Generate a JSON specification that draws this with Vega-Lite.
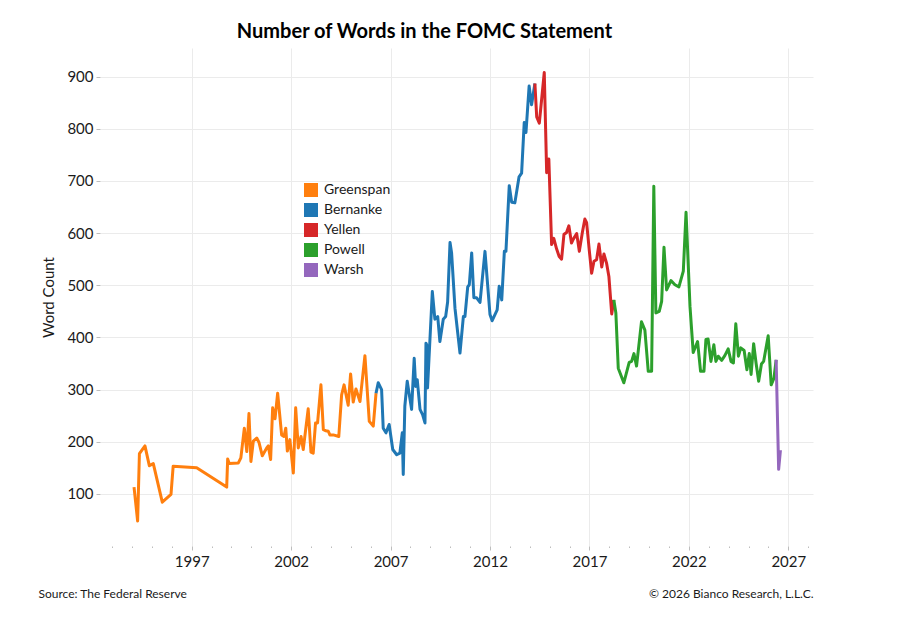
{
  "$schema": "https://vega.github.io/schema/vega-lite/v6.json",
  "width": 713,
  "height": 498,
  "autosize": {"type": "none"},
  "padding": {"left": 100, "top": 48, "right": 93, "bottom": 72},
  "background": "white",
  "title": {
    "text": "Number of Words in the FOMC Statement",
    "font": "Lato",
    "fontSize": 20,
    "fontWeight": "bold",
    "color": "#000000",
    "anchor": "middle",
    "dx": -32,
    "offset": 6
  },
  "data": {
    "values": [
      {"date": "1994-02-06", "words": 113, "chair": "Greenspan"},
      {"date": "1994-04-13", "words": 48, "chair": "Greenspan"},
      {"date": "1994-05-16", "words": 177, "chair": "Greenspan"},
      {"date": "1994-08-26", "words": 192, "chair": "Greenspan"},
      {"date": "1994-11-14", "words": 154, "chair": "Greenspan"},
      {"date": "1995-01-26", "words": 158, "chair": "Greenspan"},
      {"date": "1995-07-10", "words": 84, "chair": "Greenspan"},
      {"date": "1995-12-17", "words": 99, "chair": "Greenspan"},
      {"date": "1996-01-26", "words": 153, "chair": "Greenspan"},
      {"date": "1997-04-02", "words": 150, "chair": "Greenspan"},
      {"date": "1998-10-05", "words": 113, "chair": "Greenspan"},
      {"date": "1998-10-23", "words": 167, "chair": "Greenspan"},
      {"date": "1998-11-21", "words": 158, "chair": "Greenspan"},
      {"date": "1999-05-05", "words": 159, "chair": "Greenspan"},
      {"date": "1999-06-22", "words": 169, "chair": "Greenspan"},
      {"date": "1999-08-25", "words": 226, "chair": "Greenspan"},
      {"date": "1999-10-09", "words": 181, "chair": "Greenspan"},
      {"date": "1999-11-18", "words": 254, "chair": "Greenspan"},
      {"date": "1999-12-24", "words": 162, "chair": "Greenspan"},
      {"date": "2000-02-06", "words": 201, "chair": "Greenspan"},
      {"date": "2000-04-09", "words": 207, "chair": "Greenspan"},
      {"date": "2000-05-19", "words": 199, "chair": "Greenspan"},
      {"date": "2000-07-20", "words": 173, "chair": "Greenspan"},
      {"date": "2000-10-09", "words": 188, "chair": "Greenspan"},
      {"date": "2000-11-07", "words": 192, "chair": "Greenspan"},
      {"date": "2000-12-20", "words": 166, "chair": "Greenspan"},
      {"date": "2001-01-26", "words": 265, "chair": "Greenspan"},
      {"date": "2001-03-11", "words": 244, "chair": "Greenspan"},
      {"date": "2001-04-28", "words": 293, "chair": "Greenspan"},
      {"date": "2001-07-10", "words": 213, "chair": "Greenspan"},
      {"date": "2001-08-22", "words": 210, "chair": "Greenspan"},
      {"date": "2001-09-24", "words": 226, "chair": "Greenspan"},
      {"date": "2001-10-23", "words": 182, "chair": "Greenspan"},
      {"date": "2001-12-09", "words": 204, "chair": "Greenspan"},
      {"date": "2002-02-10", "words": 140, "chair": "Greenspan"},
      {"date": "2002-03-25", "words": 265, "chair": "Greenspan"},
      {"date": "2002-05-12", "words": 188, "chair": "Greenspan"},
      {"date": "2002-07-02", "words": 210, "chair": "Greenspan"},
      {"date": "2002-08-11", "words": 185, "chair": "Greenspan"},
      {"date": "2002-11-10", "words": 263, "chair": "Greenspan"},
      {"date": "2002-12-31", "words": 180, "chair": "Greenspan"},
      {"date": "2003-02-10", "words": 178, "chair": "Greenspan"},
      {"date": "2003-03-25", "words": 236, "chair": "Greenspan"},
      {"date": "2003-05-01", "words": 236, "chair": "Greenspan"},
      {"date": "2003-07-02", "words": 309, "chair": "Greenspan"},
      {"date": "2003-08-15", "words": 223, "chair": "Greenspan"},
      {"date": "2003-10-01", "words": 221, "chair": "Greenspan"},
      {"date": "2003-11-14", "words": 220, "chair": "Greenspan"},
      {"date": "2003-12-13", "words": 213, "chair": "Greenspan"},
      {"date": "2004-02-14", "words": 213, "chair": "Greenspan"},
      {"date": "2004-05-25", "words": 210, "chair": "Greenspan"},
      {"date": "2004-07-16", "words": 290, "chair": "Greenspan"},
      {"date": "2004-08-30", "words": 309, "chair": "Greenspan"},
      {"date": "2004-11-14", "words": 270, "chair": "Greenspan"},
      {"date": "2004-12-28", "words": 330, "chair": "Greenspan"},
      {"date": "2005-02-14", "words": 276, "chair": "Greenspan"},
      {"date": "2005-04-05", "words": 301, "chair": "Greenspan"},
      {"date": "2005-06-18", "words": 277, "chair": "Greenspan"},
      {"date": "2005-09-17", "words": 365, "chair": "Greenspan"},
      {"date": "2005-12-06", "words": 239, "chair": "Greenspan"},
      {"date": "2006-02-17", "words": 230, "chair": "Greenspan"},
      {"date": "2006-04-09", "words": 293, "chair": "Greenspan"},
      {"date": "2006-04-09", "words": 293, "chair": "Bernanke"},
      {"date": "2006-05-19", "words": 313, "chair": "Bernanke"},
      {"date": "2006-07-20", "words": 300, "chair": "Bernanke"},
      {"date": "2006-08-19", "words": 226, "chair": "Bernanke"},
      {"date": "2006-10-09", "words": 217, "chair": "Bernanke"},
      {"date": "2006-12-06", "words": 233, "chair": "Bernanke"},
      {"date": "2007-02-10", "words": 185, "chair": "Bernanke"},
      {"date": "2007-04-24", "words": 175, "chair": "Bernanke"},
      {"date": "2007-06-21", "words": 178, "chair": "Bernanke"},
      {"date": "2007-08-04", "words": 217, "chair": "Bernanke"},
      {"date": "2007-08-22", "words": 137, "chair": "Bernanke"},
      {"date": "2007-09-20", "words": 268, "chair": "Bernanke"},
      {"date": "2007-11-03", "words": 316, "chair": "Bernanke"},
      {"date": "2008-01-22", "words": 262, "chair": "Bernanke"},
      {"date": "2008-03-10", "words": 360, "chair": "Bernanke"},
      {"date": "2008-04-06", "words": 306, "chair": "Bernanke"},
      {"date": "2008-05-05", "words": 319, "chair": "Bernanke"},
      {"date": "2008-06-25", "words": 262, "chair": "Bernanke"},
      {"date": "2008-08-11", "words": 252, "chair": "Bernanke"},
      {"date": "2008-09-24", "words": 236, "chair": "Bernanke"},
      {"date": "2008-10-12", "words": 389, "chair": "Bernanke"},
      {"date": "2008-10-25", "words": 386, "chair": "Bernanke"},
      {"date": "2008-11-10", "words": 303, "chair": "Bernanke"},
      {"date": "2009-02-06", "words": 488, "chair": "Bernanke"},
      {"date": "2009-03-25", "words": 435, "chair": "Bernanke"},
      {"date": "2009-05-16", "words": 440, "chair": "Bernanke"},
      {"date": "2009-06-25", "words": 392, "chair": "Bernanke"},
      {"date": "2009-08-26", "words": 435, "chair": "Bernanke"},
      {"date": "2009-10-09", "words": 440, "chair": "Bernanke"},
      {"date": "2009-11-14", "words": 468, "chair": "Bernanke"},
      {"date": "2009-12-28", "words": 582, "chair": "Bernanke"},
      {"date": "2010-01-26", "words": 562, "chair": "Bernanke"},
      {"date": "2010-03-29", "words": 456, "chair": "Bernanke"},
      {"date": "2010-06-29", "words": 370, "chair": "Bernanke"},
      {"date": "2010-08-30", "words": 440, "chair": "Bernanke"},
      {"date": "2010-09-28", "words": 440, "chair": "Bernanke"},
      {"date": "2010-11-18", "words": 497, "chair": "Bernanke"},
      {"date": "2010-12-17", "words": 501, "chair": "Bernanke"},
      {"date": "2011-01-30", "words": 562, "chair": "Bernanke"},
      {"date": "2011-03-11", "words": 476, "chair": "Bernanke"},
      {"date": "2011-05-01", "words": 476, "chair": "Bernanke"},
      {"date": "2011-07-02", "words": 467, "chair": "Bernanke"},
      {"date": "2011-10-01", "words": 565, "chair": "Bernanke"},
      {"date": "2012-01-01", "words": 444, "chair": "Bernanke"},
      {"date": "2012-02-10", "words": 432, "chair": "Bernanke"},
      {"date": "2012-05-12", "words": 453, "chair": "Bernanke"},
      {"date": "2012-06-18", "words": 498, "chair": "Bernanke"},
      {"date": "2012-08-04", "words": 472, "chair": "Bernanke"},
      {"date": "2012-09-21", "words": 565, "chair": "Bernanke"},
      {"date": "2012-10-20", "words": 565, "chair": "Bernanke"},
      {"date": "2012-12-20", "words": 691, "chair": "Bernanke"},
      {"date": "2013-02-03", "words": 659, "chair": "Bernanke"},
      {"date": "2013-04-02", "words": 658, "chair": "Bernanke"},
      {"date": "2013-06-18", "words": 708, "chair": "Bernanke"},
      {"date": "2013-08-04", "words": 715, "chair": "Bernanke"},
      {"date": "2013-09-21", "words": 812, "chair": "Bernanke"},
      {"date": "2013-10-23", "words": 793, "chair": "Bernanke"},
      {"date": "2013-12-20", "words": 882, "chair": "Bernanke"},
      {"date": "2014-02-03", "words": 846, "chair": "Bernanke"},
      {"date": "2014-04-05", "words": 887, "chair": "Bernanke"},
      {"date": "2014-04-05", "words": 887, "chair": "Yellen"},
      {"date": "2014-05-08", "words": 823, "chair": "Yellen"},
      {"date": "2014-06-25", "words": 811, "chair": "Yellen"},
      {"date": "2014-09-24", "words": 908, "chair": "Yellen"},
      {"date": "2014-11-07", "words": 716, "chair": "Yellen"},
      {"date": "2014-12-17", "words": 742, "chair": "Yellen"},
      {"date": "2015-02-06", "words": 578, "chair": "Yellen"},
      {"date": "2015-03-18", "words": 590, "chair": "Yellen"},
      {"date": "2015-05-08", "words": 570, "chair": "Yellen"},
      {"date": "2015-06-25", "words": 555, "chair": "Yellen"},
      {"date": "2015-08-08", "words": 550, "chair": "Yellen"},
      {"date": "2015-09-21", "words": 598, "chair": "Yellen"},
      {"date": "2015-11-07", "words": 601, "chair": "Yellen"},
      {"date": "2015-12-20", "words": 614, "chair": "Yellen"},
      {"date": "2016-02-06", "words": 581, "chair": "Yellen"},
      {"date": "2016-03-08", "words": 588, "chair": "Yellen"},
      {"date": "2016-05-12", "words": 599, "chair": "Yellen"},
      {"date": "2016-06-29", "words": 565, "chair": "Yellen"},
      {"date": "2016-08-25", "words": 602, "chair": "Yellen"},
      {"date": "2016-10-09", "words": 627, "chair": "Yellen"},
      {"date": "2016-11-10", "words": 620, "chair": "Yellen"},
      {"date": "2016-12-28", "words": 568, "chair": "Yellen"},
      {"date": "2017-02-10", "words": 523, "chair": "Yellen"},
      {"date": "2017-03-25", "words": 546, "chair": "Yellen"},
      {"date": "2017-05-12", "words": 549, "chair": "Yellen"},
      {"date": "2017-06-25", "words": 579, "chair": "Yellen"},
      {"date": "2017-08-15", "words": 535, "chair": "Yellen"},
      {"date": "2017-09-24", "words": 560, "chair": "Yellen"},
      {"date": "2017-11-10", "words": 543, "chair": "Yellen"},
      {"date": "2017-12-24", "words": 517, "chair": "Yellen"},
      {"date": "2018-02-14", "words": 445, "chair": "Yellen"},
      {"date": "2018-03-25", "words": 472, "chair": "Yellen"},
      {"date": "2018-03-25", "words": 472, "chair": "Powell"},
      {"date": "2018-05-01", "words": 447, "chair": "Powell"},
      {"date": "2018-06-14", "words": 341, "chair": "Powell"},
      {"date": "2018-09-24", "words": 313, "chair": "Powell"},
      {"date": "2019-01-01", "words": 352, "chair": "Powell"},
      {"date": "2019-02-14", "words": 354, "chair": "Powell"},
      {"date": "2019-03-29", "words": 369, "chair": "Powell"},
      {"date": "2019-05-16", "words": 345, "chair": "Powell"},
      {"date": "2019-08-15", "words": 430, "chair": "Powell"},
      {"date": "2019-10-16", "words": 414, "chair": "Powell"},
      {"date": "2019-12-17", "words": 335, "chair": "Powell"},
      {"date": "2020-02-17", "words": 335, "chair": "Powell"},
      {"date": "2020-03-28", "words": 690, "chair": "Powell"},
      {"date": "2020-05-05", "words": 447, "chair": "Powell"},
      {"date": "2020-07-06", "words": 450, "chair": "Powell"},
      {"date": "2020-08-19", "words": 469, "chair": "Powell"},
      {"date": "2020-10-01", "words": 573, "chair": "Powell"},
      {"date": "2020-11-18", "words": 491, "chair": "Powell"},
      {"date": "2021-02-06", "words": 509, "chair": "Powell"},
      {"date": "2021-04-20", "words": 501, "chair": "Powell"},
      {"date": "2021-07-02", "words": 497, "chair": "Powell"},
      {"date": "2021-09-21", "words": 527, "chair": "Powell"},
      {"date": "2021-11-10", "words": 640, "chair": "Powell"},
      {"date": "2022-01-22", "words": 459, "chair": "Powell"},
      {"date": "2022-03-22", "words": 371, "chair": "Powell"},
      {"date": "2022-06-10", "words": 392, "chair": "Powell"},
      {"date": "2022-08-04", "words": 335, "chair": "Powell"},
      {"date": "2022-10-05", "words": 335, "chair": "Powell"},
      {"date": "2022-11-10", "words": 396, "chair": "Powell"},
      {"date": "2022-12-20", "words": 397, "chair": "Powell"},
      {"date": "2023-02-10", "words": 354, "chair": "Powell"},
      {"date": "2023-04-05", "words": 386, "chair": "Powell"},
      {"date": "2023-05-12", "words": 354, "chair": "Powell"},
      {"date": "2023-06-25", "words": 364, "chair": "Powell"},
      {"date": "2023-08-26", "words": 356, "chair": "Powell"},
      {"date": "2023-10-23", "words": 365, "chair": "Powell"},
      {"date": "2023-12-24", "words": 378, "chair": "Powell"},
      {"date": "2024-02-14", "words": 354, "chair": "Powell"},
      {"date": "2024-03-29", "words": 351, "chair": "Powell"},
      {"date": "2024-05-12", "words": 426, "chair": "Powell"},
      {"date": "2024-06-29", "words": 364, "chair": "Powell"},
      {"date": "2024-08-11", "words": 380, "chair": "Powell"},
      {"date": "2024-10-12", "words": 375, "chair": "Powell"},
      {"date": "2024-12-02", "words": 338, "chair": "Powell"},
      {"date": "2025-01-15", "words": 369, "chair": "Powell"},
      {"date": "2025-02-17", "words": 329, "chair": "Powell"},
      {"date": "2025-04-05", "words": 388, "chair": "Powell"},
      {"date": "2025-05-19", "words": 351, "chair": "Powell"},
      {"date": "2025-07-06", "words": 316, "chair": "Powell"},
      {"date": "2025-08-26", "words": 349, "chair": "Powell"},
      {"date": "2025-10-05", "words": 354, "chair": "Powell"},
      {"date": "2025-12-28", "words": 403, "chair": "Powell"},
      {"date": "2026-02-21", "words": 309, "chair": "Powell"},
      {"date": "2026-04-13", "words": 322, "chair": "Powell"},
      {"date": "2026-05-23", "words": 357, "chair": "Powell"},
      {"date": "2026-05-23", "words": 357, "chair": "Warsh"},
      {"date": "2026-07-08", "words": 147, "chair": "Warsh"},
      {"date": "2026-08-10", "words": 184, "chair": "Warsh"}
    ]
  },
  "layer": [
    {
      "mark": {"type": "line", "strokeWidth": 3, "strokeJoin": "round"},
      "encoding": {
        "x": {
          "field": "date",
          "type": "temporal",
          "scale": {
            "type": "utc",
            "domain": [
              {"year": 1992, "month": 5, "date": 22, "utc": true},
              {"year": 2028, "month": 3, "date": 30, "utc": true}
            ]
          },
          "axis": {
            "values": [
              {"year": 1993, "utc": true}, {"year": 1994, "utc": true}, {"year": 1995, "utc": true},
              {"year": 1996, "utc": true}, {"year": 1997, "utc": true}, {"year": 1998, "utc": true},
              {"year": 1999, "utc": true}, {"year": 2000, "utc": true}, {"year": 2001, "utc": true},
              {"year": 2002, "utc": true}, {"year": 2003, "utc": true}, {"year": 2004, "utc": true},
              {"year": 2005, "utc": true}, {"year": 2006, "utc": true}, {"year": 2007, "utc": true},
              {"year": 2008, "utc": true}, {"year": 2009, "utc": true}, {"year": 2010, "utc": true},
              {"year": 2011, "utc": true}, {"year": 2012, "utc": true}, {"year": 2013, "utc": true},
              {"year": 2014, "utc": true}, {"year": 2015, "utc": true}, {"year": 2016, "utc": true},
              {"year": 2017, "utc": true}, {"year": 2018, "utc": true}, {"year": 2019, "utc": true},
              {"year": 2020, "utc": true}, {"year": 2021, "utc": true}, {"year": 2022, "utc": true},
              {"year": 2023, "utc": true}, {"year": 2024, "utc": true}, {"year": 2025, "utc": true},
              {"year": 2026, "utc": true}, {"year": 2027, "utc": true}, {"year": 2028, "utc": true}
            ],
            "labelExpr": "utcyear(datum.value) % 5 == 2 ? utcFormat(datum.value, '%Y') : ''",
            "labelFlush": false,
            "labelOverlap": false,
            "labelFont": "Lato",
            "labelFontSize": 15,
            "labelColor": "#1a1a1a",
            "labelPadding": 4,
            "domain": false,
            "tickColor": "#bdbdbd",
            "tickSize": {"condition": {"test": "utcyear(datum.value) % 5 == 2", "value": 4}, "value": 1.5},
            "tickWidth": 1,
            "grid": true,
            "gridColor": "#ebebeb",
            "gridOpacity": {"condition": {"test": "utcyear(datum.value) % 5 == 2", "value": 1}, "value": 0},
            "title": "Source: The Federal Reserve",
            "titleFont": "Lato",
            "titleFontSize": 12,
            "titleFontWeight": "normal",
            "titleColor": "#1a1a1a",
            "titleAnchor": "start",
            "titleAlign": "left",
            "titleBaseline": "alphabetic",
            "titleX": -62,
            "titleY": 51
          }
        },
        "y": {
          "field": "words",
          "type": "quantitative",
          "scale": {"domain": [0, 955], "nice": false, "zero": false},
          "axis": {
            "values": [100, 200, 300, 400, 500, 600, 700, 800, 900],
            "title": "Word Count",
            "titleFont": "Lato",
            "titleFontSize": 15,
            "titleFontWeight": "normal",
            "titleColor": "#1a1a1a",
            "titlePadding": 10,
            "labelFont": "Lato",
            "labelFontSize": 15,
            "labelColor": "#1a1a1a",
            "labelPadding": 3,
            "domain": false,
            "tickColor": "#bdbdbd",
            "tickSize": 4,
            "gridColor": "#ebebeb"
          }
        },
        "color": {
          "field": "chair",
          "type": "nominal",
          "scale": {
            "domain": ["Greenspan", "Bernanke", "Yellen", "Powell", "Warsh"],
            "range": ["#ff7f0e", "#1f77b4", "#d62728", "#2ca02c", "#9467bd"]
          },
          "legend": {
            "title": null,
            "orient": "none",
            "legendX": 204,
            "legendY": 135,
            "symbolType": "square",
            "symbolSize": 196,
            "symbolStrokeWidth": 0,
            "symbolOpacity": 1,
            "labelFont": "Lato",
            "labelFontSize": 14,
            "labelColor": "#1a1a1a",
            "labelOffset": 6,
            "rowPadding": 6,
            "encode": {
              "symbols": {
                "update": {
                  "fill": {"scale": "color", "field": "value"},
                  "fillOpacity": {"value": 1},
                  "strokeWidth": {"value": 0}
                }
              }
            }
          }
        },
        "order": {"field": "date", "type": "temporal"}
      }
    },
    {
      "mark": {"type": "line", "opacity": 0},
      "encoding": {
        "x": {
          "field": "date",
          "type": "temporal",
          "axis": {
            "orient": "bottom",
            "labels": false,
            "ticks": false,
            "domain": false,
            "grid": false,
            "title": "© 2026 Bianco Research, L.L.C.",
            "titleFont": "Lato",
            "titleFontSize": 12,
            "titleFontWeight": "normal",
            "titleColor": "#1a1a1a",
            "titleAnchor": "end",
            "titleAlign": "right",
            "titleBaseline": "alphabetic",
            "titleX": 713,
            "titleY": 51
          }
        },
        "y": {"field": "words", "type": "quantitative"}
      }
    }
  ],
  "resolve": {"axis": {"x": "independent"}},
  "config": {
    "view": {"stroke": null},
    "font": "Lato"
  }
}
